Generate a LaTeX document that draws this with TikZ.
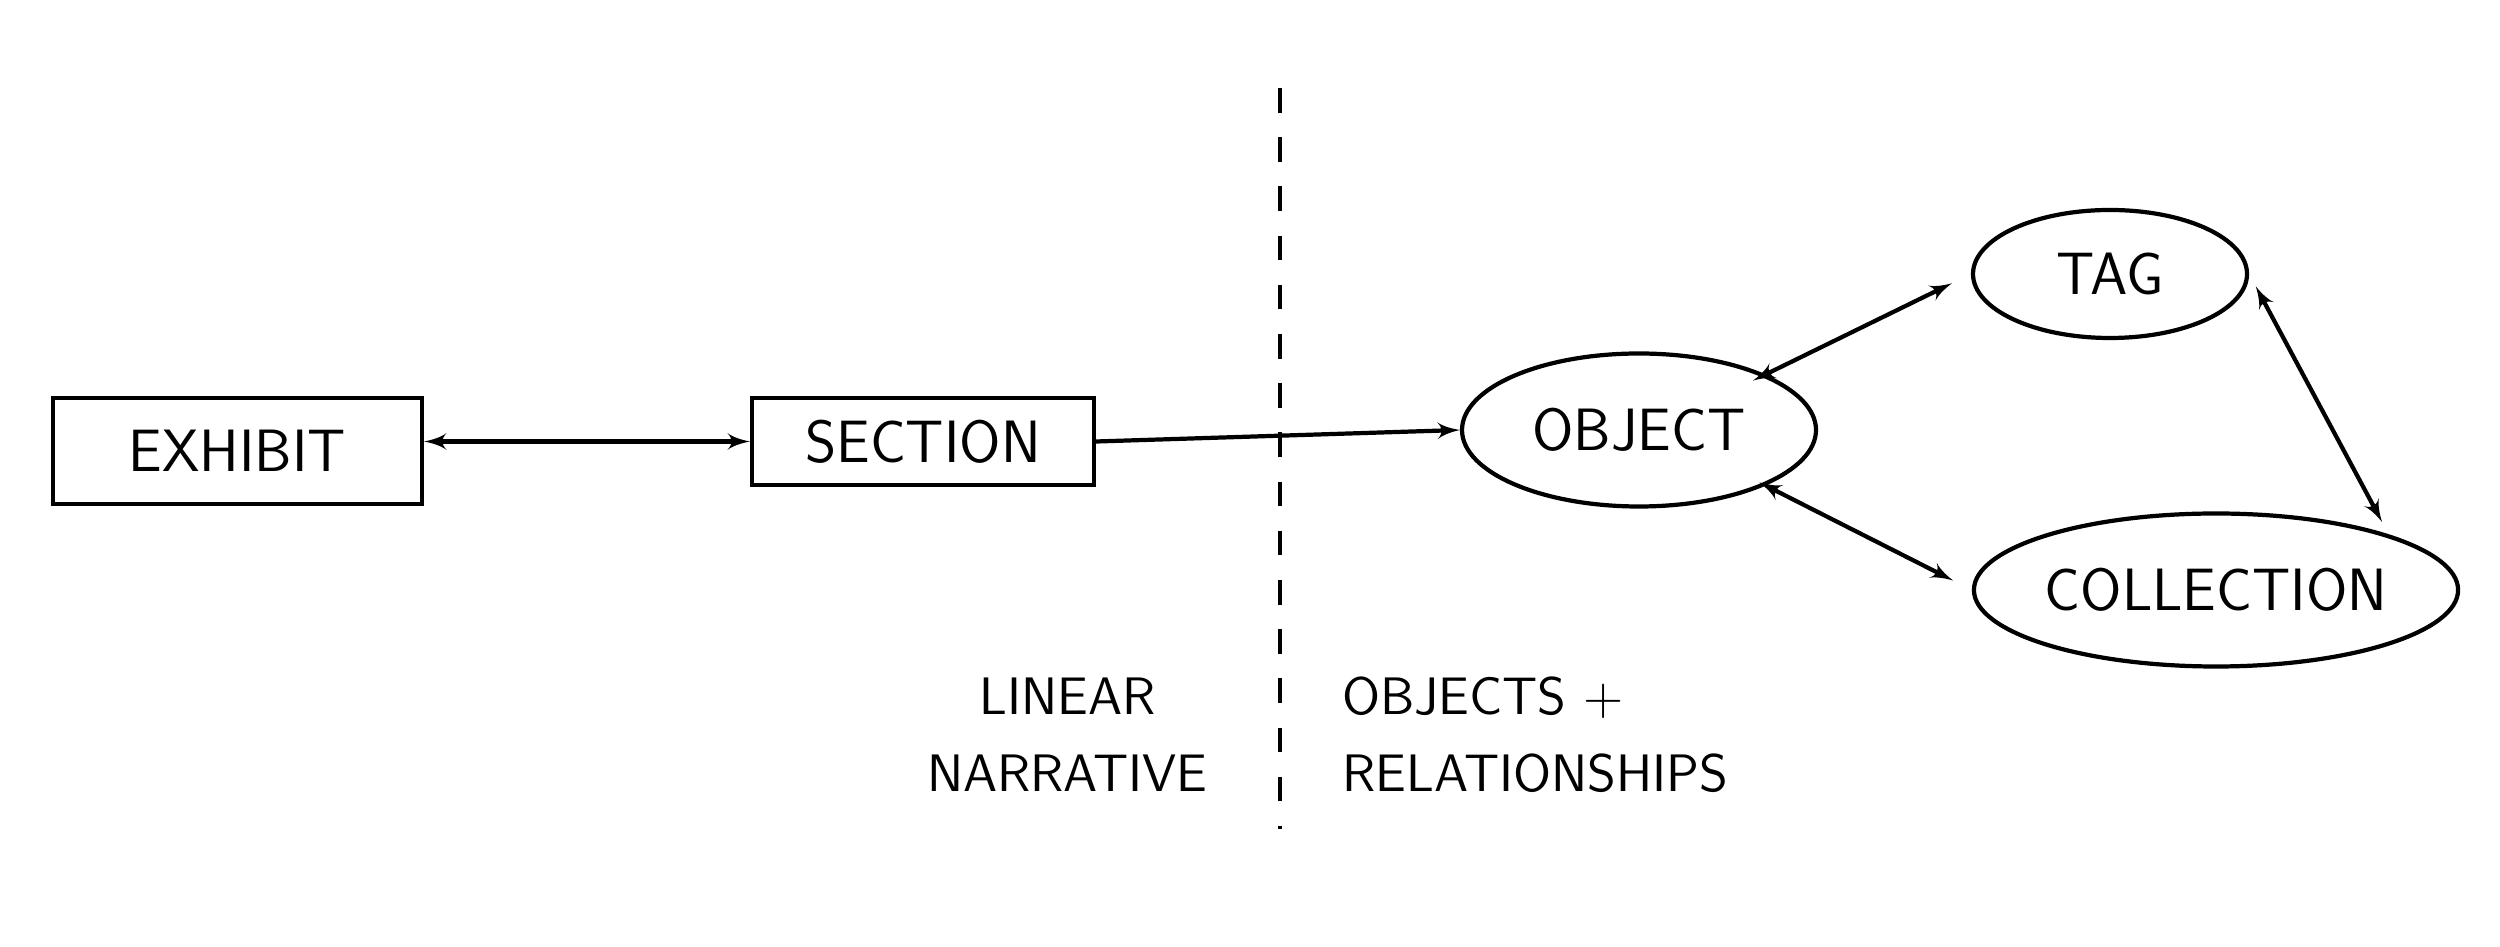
\documentclass[tikz,border=0pt]{standalone}
\usepackage{tikz}
\usetikzlibrary{arrows,positioning,shapes.geometric}
\begin{document}
\begin{tikzpicture}[>=latex']
        \tikzset{block/.style= {draw, line width=1.2pt, rectangle, align=center,inner sep=0pt},
        oval/.style={draw, line width=1.2pt, ellipse, align=center, inner sep=0pt},
        lbl/.style={align=center, font=\sffamily\fontsize{15}{22}\selectfont},
        every node/.append style={font=\sffamily\fontsize{17}{20}\selectfont},
        }
        \useasboundingbox (0,0) rectangle (25,9.47);
        \node [block, minimum width=3.69cm, minimum height=1.06cm] (exhibit) at (2.375,4.96) {EXHIBIT};
        \node [block, minimum width=3.42cm, minimum height=0.87cm] (section) at (9.23,5.055) {SECTION};
        \node [oval, minimum width=3.54cm, minimum height=1.53cm] (object) at (16.39,5.17) {OBJECT};
        \node [oval, minimum width=2.74cm, minimum height=1.28cm] (tag) at (21.10,6.73) {TAG};
        \node [oval, minimum width=4.66cm, minimum height=1.53cm] (collection) at (22.16,3.57) {COLLECTION};
        \coordinate (dtop) at (12.80,8.59);
        \coordinate (dbot) at (12.80,1.18);
        \node [lbl, anchor=east] (linear) at (12.20,2.12) {LINEAR\\NARRATIVE};
        \node [lbl, anchor=west, align=left] (objrel) at (13.30,2.12) {OBJECTS +\\RELATIONSHIPS};
%% paths
        \draw [line width=1.2pt, dash pattern=on 7pt off 7pt] (dtop) -- (dbot);
        \path[draw,line width=1.2pt] (exhibit.east |- section) edge[<->] (section.west)
                    (section.east) edge[->] (object.west)
                    (object.north east) edge[<->, shorten <=-4pt, shorten >=6pt] (tag.west)
                    (object.south east) edge[<->, shorten <=-2pt, shorten >=6pt] (collection.west)
                    (tag.east) edge[<->, shorten <=4pt, shorten >=4pt] (collection.north east)
                    ;
    \end{tikzpicture}
\end{document}
